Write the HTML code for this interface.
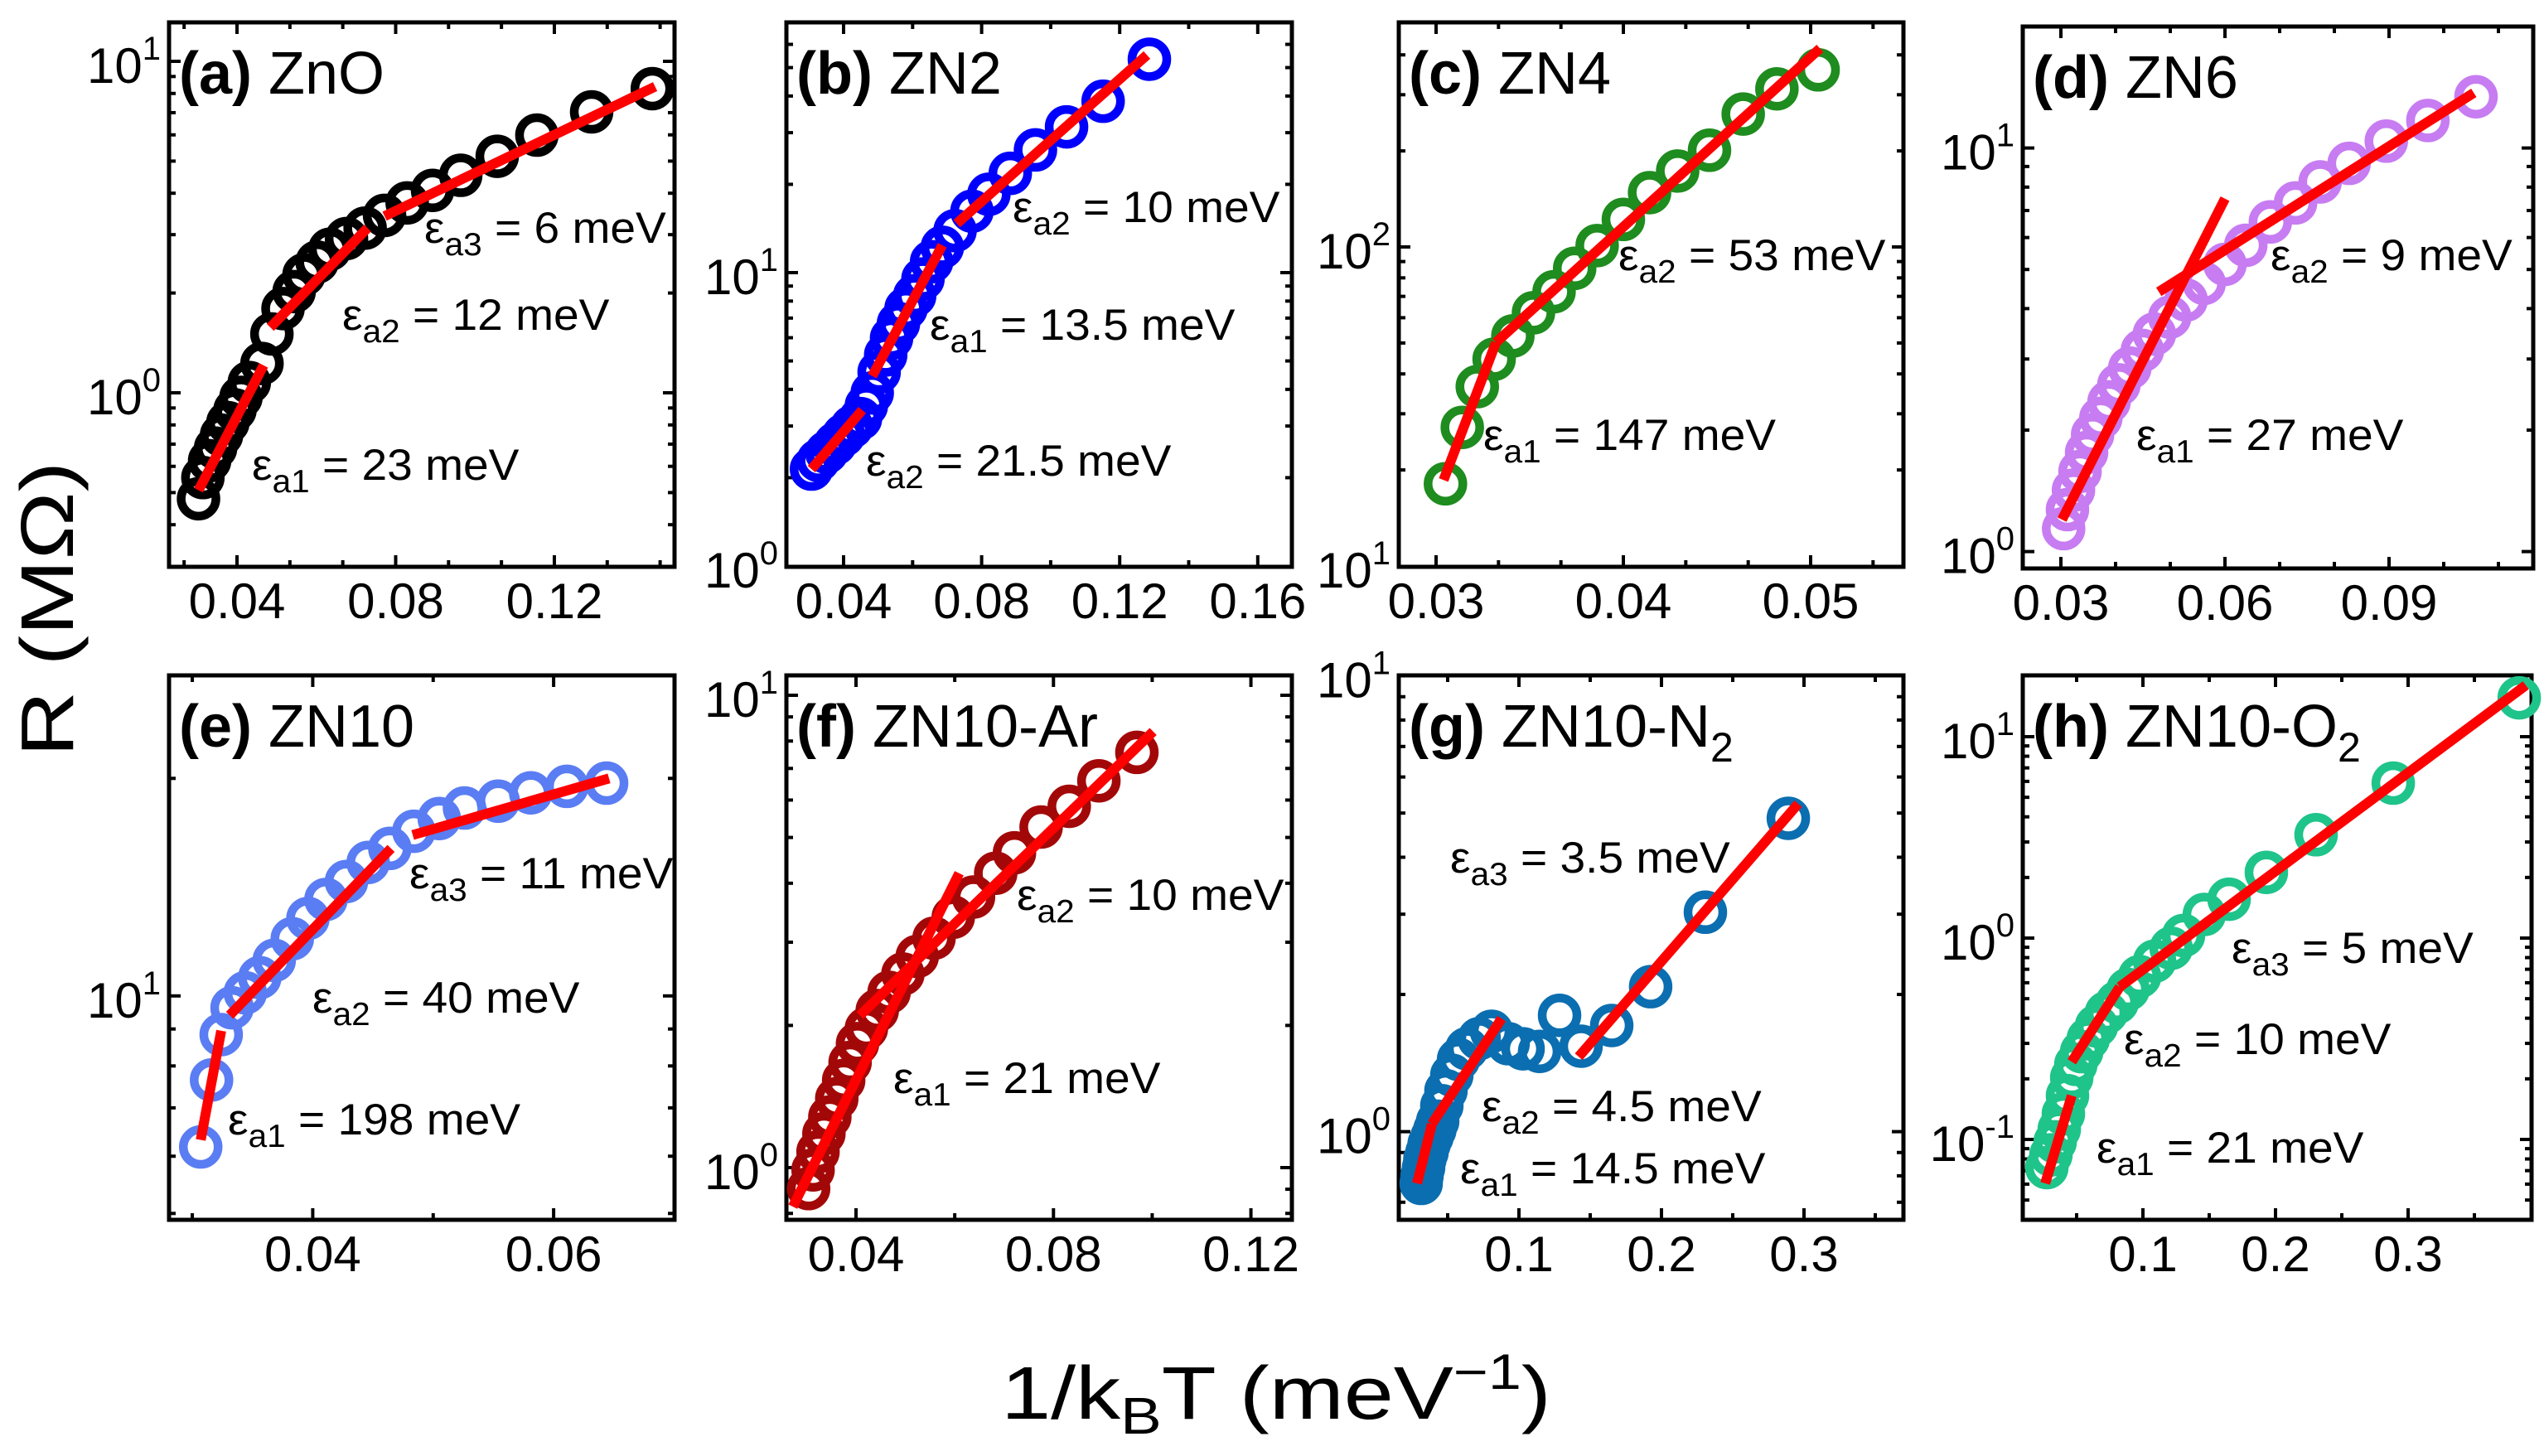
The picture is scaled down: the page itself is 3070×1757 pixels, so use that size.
<!DOCTYPE html>
<html><head><meta charset="utf-8"><style>
html,body{margin:0;padding:0;background:#fff}
svg{display:block}
text{font-family:"Liberation Sans",sans-serif;fill:#000}
</style></head><body>
<svg id="fig" width="3070" height="1757" viewBox="0 0 3070 1757" xmlns="http://www.w3.org/2000/svg">
<text transform="translate(88,735) rotate(-90) scale(1.22,1)" text-anchor="middle" font-size="90">R (MΩ)</text>
<text transform="translate(1540,1712) scale(1.2,1)" x="0" y="0" text-anchor="middle" font-size="90">1/k<tspan font-size="62" dy="18">B</tspan><tspan dy="-18">T (meV</tspan><tspan font-size="60" dy="-36">−1</tspan><tspan dy="36">)</tspan></text>
</svg>
<script>
// ---- data ----
const aX=[0.0303,0.0314,0.0331,0.0346,0.0361,0.0377,0.0395,0.0410,0.0431,0.0463,0.0488,0.0516,0.0544,0.0569,0.0602,0.0634,0.0676,0.0723,0.0772,0.0829,0.0893,0.0964,0.1056,0.1156,0.1294,0.1447];
const aR=[0.479,0.555,0.624,0.681,0.745,0.813,0.888,0.969,1.074,1.226,1.505,1.795,2.02,2.27,2.48,2.71,2.92,3.14,3.43,3.74,4.08,4.53,5.17,5.99,7.04,8.27];
const aFit=[[0.0303,0.508,0.0467,1.21],[0.0484,1.575,0.0729,3.14],[0.0772,3.41,0.1454,8.39]];
const bX=[0.0307,0.0327,0.0351,0.0376,0.0400,0.0424,0.0449,0.0466,0.0483,0.0503,0.0522,0.0539,0.0559,0.0581,0.0606,0.0630,0.0655,0.0686,0.0723,0.0772,0.0821,0.0883,0.0956,0.1046,0.1152,0.1286];
const bR=[2.14,2.29,2.44,2.61,2.79,2.98,3.18,3.52,3.89,4.58,5.24,5.98,6.71,7.55,8.34,9.52,10.9,12.2,13.9,16.2,18.5,21.8,26.2,31.4,38.4,53.4];
const bFit=[[0.0307,2.14,0.0454,3.40],[0.0483,4.44,0.0686,12.4],[0.0728,14.7,0.1279,55.2]];
const cX=[0.0305,0.0314,0.0322,0.0331,0.0341,0.0352,0.0363,0.0374,0.0386,0.0400,0.0414,0.0429,0.0446,0.0464,0.0482,0.0504];
const cR=[18.1,27.2,36.5,44.5,52.6,62.2,72.4,85.7,101,122,148,173,201,261,313,359];
const cFit=[[0.0304,18.6,0.0332,50.2],[0.0332,50.2,0.0505,419]];
const dX=[0.0305,0.0312,0.0323,0.0335,0.0347,0.0358,0.0373,0.0388,0.0406,0.0426,0.0449,0.0471,0.0499,0.0529,0.0562,0.0600,0.0638,0.0683,0.0729,0.0774,0.0827,0.0895,0.0971,0.1059];
const dR=[1.14,1.27,1.42,1.58,1.76,1.95,2.14,2.35,2.59,2.85,3.15,3.46,3.81,4.20,4.62,5.15,5.74,6.56,7.31,8.24,9.16,10.4,11.7,13.4];
const dFit=[[0.0302,1.20,0.0600,7.49],[0.0479,4.40,0.1055,13.7]];
const eX=[0.0307,0.0316,0.0324,0.0333,0.0344,0.0356,0.0368,0.0383,0.0396,0.0411,0.0428,0.0446,0.0464,0.0484,0.0505,0.0526,0.0554,0.0581,0.0611,0.0644];
const eR=[6.18,7.65,8.84,9.63,10.1,10.6,11.2,12.0,12.8,13.6,14.4,15.3,16.0,16.9,17.6,18.2,18.6,19.1,19.5,19.7];
const eFit=[[0.0307,6.32,0.0324,8.95],[0.0331,9.40,0.0465,16.0],[0.0483,16.7,0.0646,20.0]];
const fX=[0.0304,0.0313,0.0323,0.0335,0.0347,0.0361,0.0375,0.0388,0.0403,0.0421,0.0443,0.0467,0.0495,0.0524,0.0558,0.0597,0.0638,0.0683,0.0721,0.0775,0.0832,0.0892,0.0969];
const fR=[0.903,0.989,1.08,1.18,1.28,1.40,1.53,1.67,1.83,1.97,2.15,2.35,2.57,2.80,3.06,3.39,3.74,4.20,4.64,5.26,5.82,6.59,7.57];
const fFit=[[0.0272,0.827,0.0609,4.20],[0.0408,2.10,0.1002,8.38]];
const gX=[0.0314,0.0320,0.0331,0.0340,0.0355,0.0370,0.0390,0.0410,0.0430,0.0459,0.0488,0.0529,0.0576,0.0634,0.0721,0.0808,0.0924,0.1029,0.1145,0.1285,0.1436,0.1651,0.1924,0.2308,0.2890];
const gR=[0.770,0.80,0.834,0.87,0.901,0.94,0.974,1.01,1.054,1.14,1.23,1.33,1.44,1.52,1.60,1.66,1.56,1.52,1.50,1.80,1.54,1.71,2.08,3.03,4.87];
const gFit=[[0.0285,0.770,0.0390,1.04],[0.0390,1.04,0.0878,1.77],[0.1419,1.46,0.2959,5.24]];
const hX=[0.0275,0.0306,0.0338,0.0369,0.0400,0.0431,0.0463,0.0494,0.0538,0.0588,0.0650,0.0725,0.0806,0.0888,0.0975,0.1088,0.1213,0.1306,0.1463,0.1650,0.1931,0.2306,0.2888,0.3838];
const hR=[0.0725,0.0838,0.0973,0.1125,0.134,0.165,0.203,0.236,0.273,0.316,0.366,0.426,0.479,0.556,0.644,0.768,0.890,1.03,1.31,1.56,2.12,3.26,5.88,15.6];
const hFit=[[0.0263,0.0605,0.0463,0.165],[0.0463,0.243,0.0825,0.572],[0.0825,0.572,0.3888,18.0]];
const aXt=[0.04,0.08,0.12], bXt=[0.04,0.08,0.12,0.16], cXt=[0.03,0.04,0.05], dXt=[0.03,0.06,0.09];
const eXt=[0.04,0.06], fXt=[0.04,0.08,0.12], gXt=[0.1,0.2,0.3], hXt=[0.1,0.2,0.3];
const aTxt=[["3","6"],["2","12"],["1","23"]], bTxt=[["2","10"],["1","13.5"],["2","21.5"]], cTxt=[["2","53"],["1","147"]], dTxt=[["2","9"],["1","27"]];
const eTxt=[["3","11"],["2","40"],["1","198"]], fTxt=[["2","10"],["1","21"]], gTxt=[["3","3.5"],["2","4.5"],["1","14.5"]], hTxt=[["3","5"],["2","10"],["1","21"]];

// ---- layout (geometry, not data) ----
const panels=[
 {id:'a',lab:'(a)',name:'ZnO',col:'#000000',x0:204,x1:814,y0:27,y1:684,xv:0.04,xp:286,xk:4787,lv:0,lp:474,dec:400,xs:aX,ys:aR,fit:aFit,xt:aXt,xdig:2,minor:2,decs:[0,1],txt:aTxt,tp:[[512,293],[413,398],[304,579]]},
 {id:'b',lab:'(b)',name:'ZN2',col:'#0000ff',x0:949,x1:1559,y0:27,y1:684,xv:0.04,xp:1018,xk:4165,lv:0,lp:683,dec:354,xs:bX,ys:bR,fit:bFit,xt:bXt,xdig:2,minor:1,decs:[0,1],txt:bTxt,tp:[[1222,268],[1122,410],[1045,574]]},
 {id:'c',lab:'(c)',name:'ZN4',col:'#1e8c1e',x0:1688,x1:2297,y0:27,y1:684,xv:0.03,xp:1733,xk:22600,lv:1,lp:683,dec:385,xs:cX,ys:cR,fit:cFit,xt:cXt,xdig:2,minor:2,decs:[1,2],txt:cTxt,tp:[[1953,326],[1790,543]]},
 {id:'d',lab:'(d)',name:'ZN6',col:'#c77cf2',x0:2441,x1:3057,y0:32,y1:686,xv:0.03,xp:2487,xk:6600,lv:0,lp:665.6,dec:487,xs:dX,ys:dR,fit:dFit,xt:dXt,xdig:2,minor:2,decs:[0,1],txt:dTxt,tp:[[2740,326],[2578,543]]},
 {id:'e',lab:'(e)',name:'ZN10',col:'#5a7df3',x0:204,x1:814,y0:815,y1:1472,xv:0.04,xp:377.4,xk:14535,lv:1,lp:1201.8,dec:872,xs:eX,ys:eR,fit:eFit,xt:eXt,xdig:2,minor:1,decs:[1],txt:eTxt,tp:[[494,1072],[377,1222],[275,1369]]},
 {id:'f',lab:'(f)',name:'ZN10-Ar',col:'#a30808',x0:949,x1:1559,y0:815,y1:1472,xv:0.04,xp:1033,xk:5957,lv:0,lp:1409,dec:570,xs:fX,ys:fR,fit:fFit,xt:fXt,xdig:2,minor:1,decs:[0,1],txt:fTxt,tp:[[1227,1098],[1078,1319]]},
 {id:'g',lab:'(g)',name:'ZN10-N',sub:'2',col:'#0b6eb0',x0:1688,x1:2297,y0:815,y1:1472,xv:0.1,xp:1833,xk:1720,lv:0,lp:1365.6,dec:550,xs:gX,ys:gR,fit:gFit,xt:gXt,xdig:1,minor:1,decs:[0,1],txt:gTxt,tp:[[1750,1053],[1788,1353],[1762,1428]]},
 {id:'h',lab:'(h)',name:'ZN10-O',sub:'2',col:'#1fc48a',x0:2441,x1:3055,y0:815,y1:1472,xv:0.1,xp:2586,xk:1600,lv:0,lp:1132,dec:243,xs:hX,ys:hR,fit:hFit,xt:hXt,xdig:1,minor:1,decs:[-1,0,1],txt:hTxt,tp:[[2693,1162],[2563,1272],[2530,1403]]}
];
const NS='http://www.w3.org/2000/svg';
const svg=document.getElementById('fig');
function mk(tag,attrs,parent){const e=document.createElementNS(NS,tag);for(const k in attrs)e.setAttribute(k,attrs[k]);(parent||svg).appendChild(e);return e;}
function tx(x,y,sx,attrs,parent){attrs.transform='translate('+x+','+y+') scale('+sx+',1)';attrs.x=0;attrs.y=0;return mk('text',attrs,parent);}
panels.forEach(p=>{
  const X=v=>p.xp+(v-p.xv)*p.xk;
  const Y=v=>p.lp-(Math.log10(v)-p.lv)*p.dec;
  const g=mk('g',{});
  
  
  const step=p.xt[1]-p.xt[0];
  const ms=step/(p.minor+1);
  for(let v=p.xt[0]-step;v<=p.xt[p.xt.length-1]+step+1e-9;v+=ms){
    const x=X(v); if(x<p.x0+3||x>p.x1-3)continue;
    const maj=Math.abs(((v-p.xt[0])/step)-Math.round((v-p.xt[0])/step))<1e-6;
    const L=maj?14:8;
    mk('line',{x1:x,x2:x,y1:p.y1,y2:p.y1-L,stroke:'#000','stroke-width':4},g);
    mk('line',{x1:x,x2:x,y1:p.y0,y2:p.y0+L,stroke:'#000','stroke-width':4},g);
  }
  p.xt.forEach(v=>{const t=tx(X(v),p.y1+62,1,{'text-anchor':'middle','font-size':60},g);t.textContent=v.toFixed(p.xdig);
    
    });
  for(let d=p.decs[0]-1;d<=p.decs[p.decs.length-1]+1;d++){
    for(let m=1;m<10;m++){
      const y=Y(m*Math.pow(10,d)); if(y<p.y0+3||y>p.y1-3)continue;
      const L=m===1?14:8;
      mk('line',{x1:p.x0,x2:p.x0+L,y1:y,y2:y,stroke:'#000','stroke-width':4},g);
      mk('line',{x1:p.x1,x2:p.x1-L,y1:y,y2:y,stroke:'#000','stroke-width':4},g);
    }
  }
  p.decs.forEach(d=>{const y=Y(Math.pow(10,d));
    const t=tx(p.x0-10,y+26,1,{'text-anchor':'end','font-size':60},g);
    
    
    const s1=mk('tspan',{},t);s1.textContent='10';
    const s2=mk('tspan',{'font-size':40,dy:-28},t);s2.textContent=String(d);});
  const fr=mk('rect',{x:p.x0,y:p.y0,width:p.x1-p.x0,height:p.y1-p.y0,fill:'none',stroke:'#000','stroke-width':5},g);
  
  
  p.xs.forEach((v,i)=>{const c=mk('circle',{cx:X(v),cy:Y(p.ys[i]),r:21,fill:'none',stroke:p.col,'stroke-width':10.5},g);
    
    });
  p.fit.forEach(f=>{const l=mk('line',{x1:X(f[0]),y1:Y(f[1]),x2:X(f[2]),y2:Y(f[3]),stroke:'#ff0000','stroke-width':12,'stroke-linecap':'butt'},g);
    
    });
  const tt=tx(p.x0+12,p.y0+86,1,{'font-size':72},g);
  
  
  const b=mk('tspan',{'font-weight':'bold'},tt);b.textContent=p.lab+' ';
  const n=mk('tspan',{},tt);n.textContent=p.name;
  if(p.sub){const s=mk('tspan',{'font-size':50,dy:18},tt);s.textContent=p.sub;}
  p.txt.forEach((a,i)=>{const t=tx(p.tp[i][0],p.tp[i][1],1.04,{'font-size':53},g);
    
    
    const e1=mk('tspan',{},t);e1.textContent='ε';
    const e2=mk('tspan',{'font-size':39,dy:15},t);e2.textContent='a'+a[0];
    const e3=mk('tspan',{dy:-15},t);e3.textContent=' = '+a[1]+' meV';});
});
</script>
</body></html>
